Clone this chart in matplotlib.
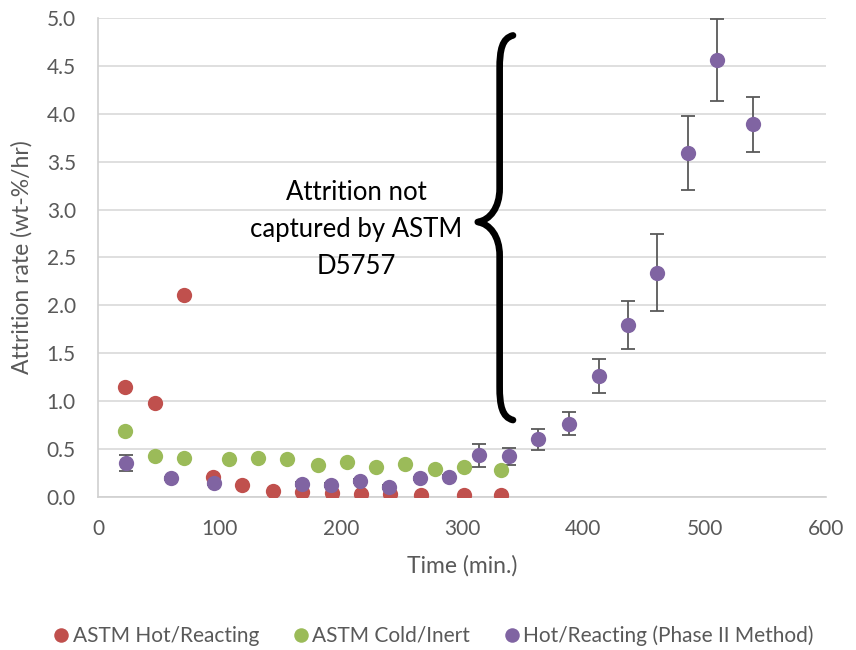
#!/usr/bin/env python3

import matplotlib
matplotlib.use("Agg")
import matplotlib.pyplot as plt
from matplotlib.path import Path
from matplotlib.patches import PathPatch

plt.rcParams['font.family'] = ['Lato', 'DejaVu Sans']

# ASTM Hot/Reacting
hot_x = [22, 47, 71, 95, 119, 144, 168, 193, 217, 241, 266, 302, 332]
hot_y = [1.15, 0.98, 2.11, 0.21, 0.12, 0.06, 0.045, 0.035, 0.03, 0.025, 0.02, 0.02, 0.02]

# ASTM Cold/Inert
cold_x = [22, 47, 71, 108, 132, 156, 181, 205, 229, 253, 278, 302, 332]
cold_y = [0.69, 0.42, 0.40, 0.39, 0.40, 0.39, 0.33, 0.36, 0.31, 0.34, 0.29, 0.31, 0.28]

# Hot/Reacting (Phase II Method)
p2_x = [23, 60, 96, 168, 192, 216, 240, 265, 289, 314, 339, 363, 388, 413, 437,
        461, 486, 510, 540]
p2_y = [0.35, 0.19, 0.14, 0.13, 0.12, 0.16, 0.10, 0.19, 0.21, 0.43, 0.42, 0.60,
        0.76, 1.26, 1.79, 2.34, 3.59, 4.56, 3.89]
p2_err = [0.085, 0.02, 0.02, 0.02, 0.02, 0.02, 0.02, 0.02, 0.02, 0.12, 0.09,
          0.11, 0.12, 0.18, 0.25, 0.40, 0.39, 0.43, 0.29]

RED = '#C0504D'
GREEN = '#9BBB59'
PURPLE = '#8064A2'
GREY = '#595959'

fig = plt.figure(figsize=(8.56, 6.5), dpi=100)
ax = fig.add_axes([0.1145, 0.236, 0.8505, 0.736])

ms = 11
ax.plot(hot_x, hot_y, 'o', color=RED, ms=ms, mew=0, label='ASTM Hot/Reacting', zorder=3)
ax.plot(cold_x, cold_y, 'o', color=GREEN, ms=ms, mew=0, label='ASTM Cold/Inert', zorder=3)
ax.errorbar(p2_x, p2_y, yerr=p2_err, fmt='none', ecolor=GREY, elinewidth=1.3,
            capsize=5, capthick=1.3, zorder=2)
ax.plot(p2_x, p2_y, 'o', color=PURPLE, ms=ms, mew=0,
        label='Hot/Reacting (Phase II Method)', zorder=4)

ax.set_xlim(0, 600)
ax.set_ylim(0, 5)
ax.set_xticks(range(0, 601, 100))
ax.set_yticks([i * 0.5 for i in range(11)])
ax.set_yticklabels(['%.1f' % (i * 0.5) for i in range(11)])
ax.grid(axis='y', color='#D9D9D9', lw=1.2)
ax.set_axisbelow(True)
for s in ['top', 'right']:
    ax.spines[s].set_visible(False)
for s in ['bottom', 'left']:
    ax.spines[s].set_color('#D0D0D0')
    ax.spines[s].set_linewidth(1.2)
ax.tick_params(length=0, labelsize=15, colors=GREY)
ax.tick_params(axis='y', pad=16)
ax.tick_params(axis='x', pad=16)

ax.set_xlabel('Time (min.)', fontsize=16.5, color=GREY, labelpad=12)
ax.set_ylabel('Attrition rate (wt-%/hr)', fontsize=16.5, color=GREY, labelpad=10)

# curly brace annotation
xt, xm, xe = 313, 331, 342
yt, yb, yc = 4.82, 0.80, 2.87
verts = [
    (xe, yt),
    (xm + 2, yt - 0.03), (xm, yt - 0.15), (xm, yt - 0.35),
    (xm, yc + 0.35),
    (xm, yc + 0.15), (xm - 8, yc + 0.02), (xt, yc),
    (xm - 8, yc - 0.02), (xm, yc - 0.15), (xm, yc - 0.35),
    (xm, yb + 0.35),
    (xm, yb + 0.15), (xm + 2, yb + 0.03), (xe, yb),
]
codes = [Path.MOVETO,
         Path.CURVE4, Path.CURVE4, Path.CURVE4,
         Path.LINETO,
         Path.CURVE4, Path.CURVE4, Path.CURVE4,
         Path.CURVE4, Path.CURVE4, Path.CURVE4,
         Path.LINETO,
         Path.CURVE4, Path.CURVE4, Path.CURVE4]
ax.add_patch(PathPatch(Path(verts, codes), fill=False, lw=4.8, color='black',
                       capstyle='round', joinstyle='round', zorder=5))

ax.text(213, 2.79, 'Attrition not\ncaptured by ASTM\nD5757', fontsize=18.5,
        ha='center', va='center', linespacing=1.6, color='black')

fig.legend(loc='center', bbox_to_anchor=(0.505, 0.022), ncol=3, frameon=False,
           fontsize=15, handletextpad=0.05, handlelength=1.0, columnspacing=1.5,
           markerscale=0.95, labelcolor=GREY)

fig.savefig('out.png', dpi=100)
